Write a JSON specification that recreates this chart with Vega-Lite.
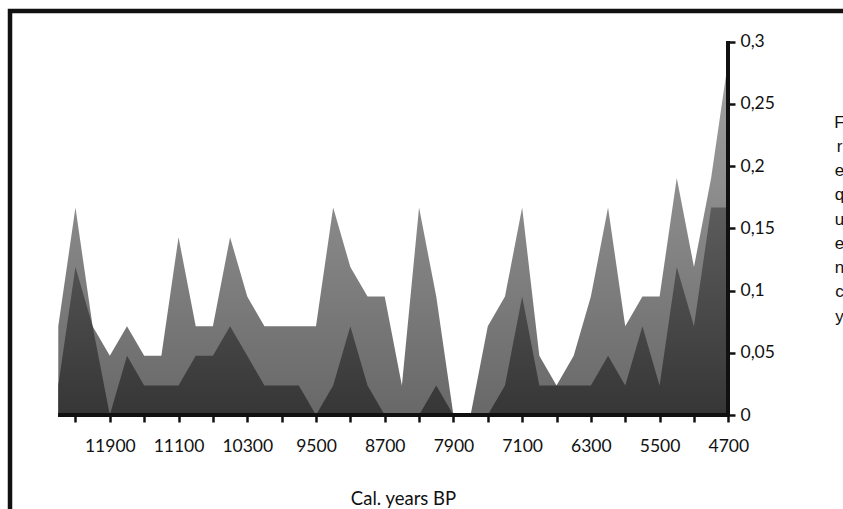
{
  "$schema": "https://vega.github.io/schema/vega-lite/v6.json",
  "autosize": {"type": "none"},
  "padding": {"left": 10, "top": 11, "right": -3, "bottom": -3},
  "width": 836,
  "height": 501,
  "background": "white",
  "data": {
    "values": [
      {"year": 12500, "light": 0.0714, "dark": 0.0238},
      {"year": 12300, "light": 0.1667, "dark": 0.119},
      {"year": 12100, "light": 0.0714, "dark": 0.0714},
      {"year": 11900, "light": 0.0476, "dark": 0},
      {"year": 11700, "light": 0.0714, "dark": 0.0476},
      {"year": 11500, "light": 0.0476, "dark": 0.0238},
      {"year": 11300, "light": 0.0476, "dark": 0.0238},
      {"year": 11100, "light": 0.1429, "dark": 0.0238},
      {"year": 10900, "light": 0.0714, "dark": 0.0476},
      {"year": 10700, "light": 0.0714, "dark": 0.0476},
      {"year": 10500, "light": 0.1429, "dark": 0.0714},
      {"year": 10300, "light": 0.0952, "dark": 0.0476},
      {"year": 10100, "light": 0.0714, "dark": 0.0238},
      {"year": 9900, "light": 0.0714, "dark": 0.0238},
      {"year": 9700, "light": 0.0714, "dark": 0.0238},
      {"year": 9500, "light": 0.0714, "dark": 0},
      {"year": 9300, "light": 0.1667, "dark": 0.0238},
      {"year": 9100, "light": 0.119, "dark": 0.0714},
      {"year": 8900, "light": 0.0952, "dark": 0.0238},
      {"year": 8700, "light": 0.0952, "dark": 0},
      {"year": 8500, "light": 0.0238, "dark": 0},
      {"year": 8300, "light": 0.1667, "dark": 0},
      {"year": 8100, "light": 0.0952, "dark": 0.0238},
      {"year": 7900, "light": 0, "dark": 0},
      {"year": 7700, "light": 0, "dark": 0},
      {"year": 7500, "light": 0.0714, "dark": 0},
      {"year": 7300, "light": 0.0952, "dark": 0.0238},
      {"year": 7100, "light": 0.1667, "dark": 0.0952},
      {"year": 6900, "light": 0.0476, "dark": 0.0238},
      {"year": 6700, "light": 0.0238, "dark": 0.0238},
      {"year": 6500, "light": 0.0476, "dark": 0.0238},
      {"year": 6300, "light": 0.0952, "dark": 0.0238},
      {"year": 6100, "light": 0.1667, "dark": 0.0476},
      {"year": 5900, "light": 0.0714, "dark": 0.0238},
      {"year": 5700, "light": 0.0952, "dark": 0.0714},
      {"year": 5500, "light": 0.0952, "dark": 0.0238},
      {"year": 5300, "light": 0.1905, "dark": 0.119},
      {"year": 5100, "light": 0.119, "dark": 0.0714},
      {"year": 4900, "light": 0.1905, "dark": 0.1667},
      {"year": 4700, "light": 0.2857, "dark": 0.1667}
    ]
  },
  "layer": [
    {
      "mark": {
        "type": "area",
        "color": {"gradient": "linear", "x1": 0, "y1": 0, "x2": 0, "y2": 1,
          "stops": [{"offset": 0, "color": "#a2a2a2"}, {"offset": 1, "color": "#686868"}]}
      },
      "encoding": {
        "x": {
          "field": "year", "type": "quantitative",
          "scale": {"domain": [3330, 13062], "reverse": true, "nice": false, "zero": false},
          "axis": {
            "orient": "bottom", "offset": -97, "domain": false, "grid": false,
            "values": [12500,12300,12100,11900,11700,11500,11300,11100,10900,10700,10500,10300,10100,9900,9700,9500,9300,9100,8900,8700,8500,8300,8100,7900,7700,7500,7300,7100,6900,6700,6500,6300,6100,5900,5700,5500,5300,5100,4900,4700],
            "labelExpr": "datum.value % 800 == 700 ? '' + datum.value : ''",
            "labelOverlap": false, "labelFlush": false,
            "tickColor": "#111", "tickWidth": 2.5, "tickSize": 7,
            "labelFont": "Lato", "labelFontSize": 17.5, "labelColor": "#111", "labelPadding": 15,
            "title": "Cal. years BP", "titleFont": "Lato", "titleFontSize": 18.5, "titleFontWeight": "normal",
            "titleColor": "#111", "titleX": 393, "titleY": 89, "titleBaseline": "alphabetic", "titleAnchor": null, "titleAlign": "center"
          }
        },
        "y": {
          "field": "light", "type": "quantitative",
          "scale": {"domain": [-0.0779, 0.3247], "nice": false, "zero": false},
          "axis": {
            "orient": "right", "offset": -118, "domain": false, "grid": false,
            "values": [0, 0.05, 0.1, 0.15, 0.2, 0.25, 0.3],
            "labelExpr": "replace(format(datum.value, ''), '.', ',')",
            "tickColor": "#111", "tickWidth": 2.5, "tickSize": 7,
            "labelFont": "Lato", "labelFontSize": 17.5, "labelColor": "#111", "labelPadding": 5,
            "title": ["F", "r", "e", "q", "u", "e", "n", "c", "y"],
            "titleAngle": 0, "titleFont": "Liberation Sans", "titleFontSize": 17, "titleFontWeight": "normal",
            "titleColor": "#111", "titleX": 111, "titleY": 116, "titleAlign": "center", "titleBaseline": "alphabetic",
            "titleLineHeight": 24.25, "titleAnchor": null
          }
        },
        "y2": {"datum": 0}
      }
    },
    {
      "mark": {
        "type": "area",
        "color": {"gradient": "linear", "x1": 0, "y1": 0, "x2": 0, "y2": 1,
          "stops": [{"offset": 0, "color": "#5c5c5c"}, {"offset": 1, "color": "#363636"}]}
      },
      "encoding": {
        "x": {"field": "year", "type": "quantitative"},
        "y": {"field": "dark", "type": "quantitative"},
        "y2": {"datum": 0}
      }
    },
    {
      "mark": {"type": "rule", "color": "#111", "strokeWidth": 3},
      "encoding": {
        "x": {"datum": 12500, "type": "quantitative"},
        "x2": {"datum": 4700},
        "y": {"datum": 0, "type": "quantitative"}
      }
    },
    {
      "mark": {"type": "rule", "color": "#111", "strokeWidth": 3},
      "encoding": {
        "x": {"datum": 4700, "type": "quantitative"},
        "y": {"datum": 0, "type": "quantitative"},
        "y2": {"datum": 0.3}
      }
    }
  ],
  "config": {
    "view": {"stroke": "#111", "strokeWidth": 4.5},
    "axis": {"labelFont": "Lato"}
  }
}
